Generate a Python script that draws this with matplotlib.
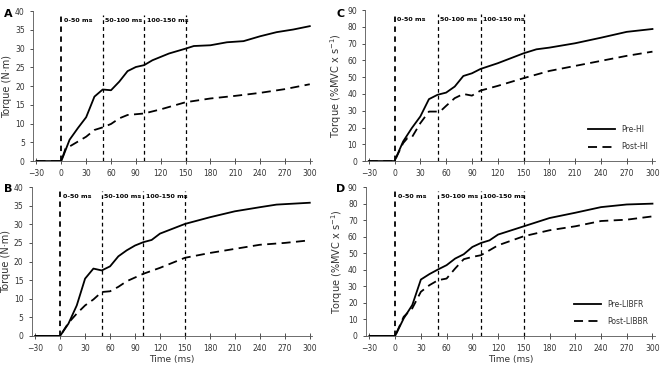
import matplotlib
matplotlib.use("Agg")
import matplotlib.pyplot as plt

# ---- data ----
t_pre_A = [-30, 0, 10, 20, 30, 40, 50, 60, 70, 80, 90, 100, 110, 120, 130, 150, 160, 180, 200, 220, 240, 260, 280, 300]
pre_A = [0, 0, 5.7, 8.8, 11.7, 17.2, 19.1, 18.9, 21.2, 24.0, 25.1, 25.6, 26.9, 27.8, 28.7, 30.0, 30.7, 30.9, 31.7, 32.0, 33.3, 34.4, 35.1, 36.0]
t_post_A = [-30, 0, 5, 10, 20, 30, 40, 50, 60, 70, 80, 90, 100, 120, 150, 180, 210, 240, 270, 300]
post_A = [0, 0, 3.3, 3.9, 5.2, 6.5, 8.3, 9.0, 9.9, 11.4, 12.3, 12.5, 12.7, 13.8, 15.7, 16.7, 17.4, 18.2, 19.2, 20.5]

t_pre_B = [-30, 0, 10, 20, 30, 40, 50, 60, 70, 80, 90, 100, 110, 120, 150, 180, 210, 240, 260, 300]
pre_B = [0, 0, 3.3, 8.2, 15.4, 18.1, 17.6, 18.7, 21.4, 23.0, 24.3, 25.2, 25.8, 27.5, 30.1, 31.9, 33.5, 34.6, 35.3, 35.8]
t_post_B = [-30, 0, 10, 20, 30, 40, 50, 60, 70, 80, 100, 120, 150, 180, 210, 240, 270, 300]
post_B = [0, 0, 3.5, 6.0, 8.2, 9.8, 11.8, 12.0, 13.2, 14.7, 16.7, 18.3, 21.0, 22.3, 23.4, 24.5, 25.0, 25.7]

t_pre_C = [-30, 0, 10, 20, 30, 40, 50, 60, 70, 80, 90, 100, 120, 150, 165, 180, 210, 240, 270, 300]
pre_C = [0, 0, 11.7, 19.6, 26.6, 36.9, 39.5, 40.8, 44.4, 50.7, 52.3, 54.9, 58.3, 64.2, 66.6, 67.6, 70.2, 73.5, 77.0, 78.7]
t_post_C = [-30, 0, 10, 15, 20, 30, 40, 50, 55, 60, 70, 80, 90, 100, 120, 150, 180, 210, 240, 270, 300]
post_C = [0, 0, 10.7, 13.7, 14.0, 22.6, 29.5, 29.5, 30.5, 32.9, 37.5, 40.0, 39.0, 42.0, 44.8, 49.4, 53.7, 56.7, 59.7, 62.7, 65.2]

t_pre_D = [-30, 0, 10, 20, 30, 40, 50, 60, 70, 80, 90, 100, 110, 120, 150, 180, 210, 240, 270, 300]
pre_D = [0, 0, 10.6, 18.7, 34.1, 37.4, 40.2, 42.8, 46.8, 49.4, 53.8, 56.2, 57.8, 61.3, 66.3, 71.3, 74.5, 77.9, 79.5, 80.0]
t_post_D = [-30, 0, 10, 20, 30, 40, 50, 60, 70, 80, 90, 100, 120, 150, 180, 210, 240, 270, 300]
post_D = [0, 0, 11.6, 16.7, 26.7, 30.7, 33.7, 34.7, 40.8, 46.4, 47.8, 48.8, 54.8, 60.3, 63.9, 66.3, 69.5, 70.3, 72.3]

x_ticks = [-30, 0, 30, 60, 90, 120, 150, 180, 210, 240, 270, 300]
windows = [0, 50, 100, 150]
window_labels = ["0-50 ms", "50-100 ms", "100-150 ms"]

fig = plt.figure(figsize=(6.63, 3.72), dpi=100)
fs = 5.5
txtc = "#333333"

def setup(ax, ymax, ystep, ylabel, letter, letter_xy, tpre, pre, tpost, post, xlabel=False, legend=None):
    ax.plot(tpre, pre, color="black", lw=1.3, solid_joinstyle="round")
    ax.plot(tpost, post, color="black", lw=1.3, dashes=(5, 3))
    ax.set_xlim(-34, 303)
    ax.set_ylim(0, ymax)
    ax.set_xticks(x_ticks)
    ax.set_yticks(range(0, ymax + 1, ystep))
    ax.tick_params(axis="both", labelsize=fs, colors=txtc, length=2.5, width=0.6, direction="out")
    ax.tick_params(axis="x", direction="inout", length=4)
    for s in ["top", "right"]:
        ax.spines[s].set_visible(False)
    for s in ["left", "bottom"]:
        ax.spines[s].set_linewidth(0.6)
        ax.spines[s].set_color("#555555")
    ytop = ymax * 0.975
    for i, w in enumerate(windows):
        lw = 1.3 if w == 0 else 0.9
        ax.plot([w, w], [0, ytop], color="black", lw=lw, dashes=(3, 2.5))
    for i, lab in enumerate(window_labels):
        ax.text(windows[i] + 3, ymax * 0.935, lab, ha="left", va="center",
                fontsize=4.6, color="black", fontweight="semibold")
    ax.set_ylabel(ylabel, fontsize=7, color=txtc, labelpad=2)
    if xlabel:
        ax.set_xlabel("Time (ms)", fontsize=6.5, color=txtc, labelpad=2)
    fig.text(letter_xy[0], letter_xy[1], letter, fontsize=8, fontweight="bold",
             ha="left", va="top")
    if legend:
        ax.legend(legend, loc="lower right", bbox_to_anchor=(1.0, 0.02), frameon=False,
                  fontsize=fs, handlelength=3.5, labelspacing=1.1, labelcolor=txtc)

axA = fig.add_axes([0.050, 0.567, 0.421, 0.403])
setup(axA, 40, 5, "Torque (N·m)", "A", (0.006, 0.975), t_pre_A, pre_A, t_post_A, post_A)

axB = fig.add_axes([0.048, 0.097, 0.423, 0.400])
setup(axB, 40, 5, "Torque (N·m)", "B", (0.006, 0.505), t_pre_B, pre_B, t_post_B, post_B, xlabel=True)

axC = fig.add_axes([0.551, 0.567, 0.437, 0.406])
setup(axC, 90, 10, "Torque (%MVC x s$^{-1}$)", "C", (0.507, 0.975), t_pre_C, pre_C, t_post_C, post_C,
      legend=["Pre-HI", "Post-HI"])

axD = fig.add_axes([0.552, 0.097, 0.436, 0.400])
setup(axD, 90, 10, "Torque (%MVC x s$^{-1}$)", "D", (0.507, 0.505), t_pre_D, pre_D, t_post_D, post_D, xlabel=True,
      legend=["Pre-LIBFR", "Post-LIBBR"])

fig.savefig("out.png", dpi=100)
